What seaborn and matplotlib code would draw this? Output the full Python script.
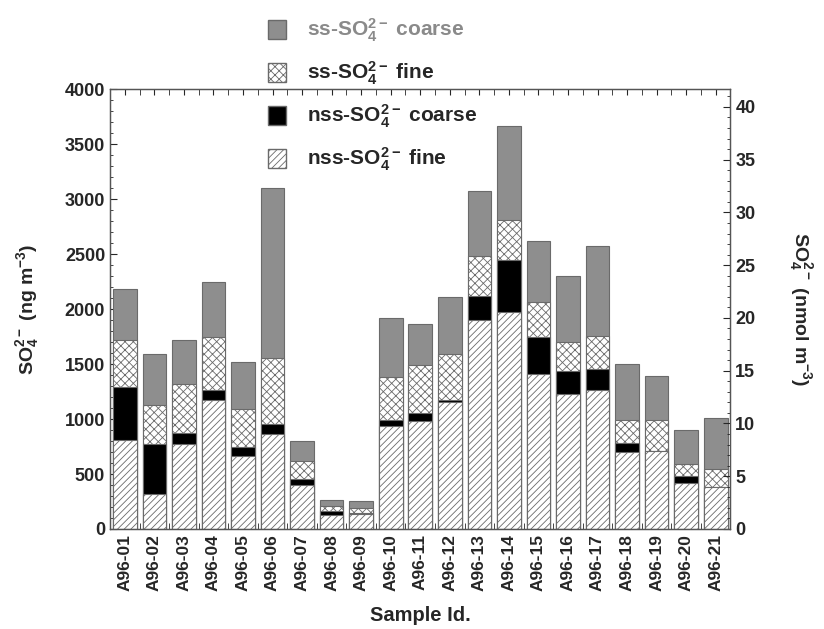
import numpy as np
import pandas as pd
import seaborn as sns
import matplotlib.pyplot as plt
from matplotlib.patches import Patch
from matplotlib.ticker import MultipleLocator

samples = ["A96-%02d" % i for i in range(1, 22)]

# ng m-3 (components of each stacked bar)
nss_fine = [813, 315, 776, 1169, 667, 868, 402, 128, 140, 940, 986, 1151,
            1899, 1973, 1406, 1224, 1269, 703, 712, 420, 384]
nss_coarse = [475, 461, 101, 100, 82, 91, 55, 32, 10, 55, 73, 27,
              220, 474, 338, 210, 183, 82, 0, 64, 0]
ss_fine = [429, 356, 438, 475, 347, 593, 164, 50, 40, 384, 429, 411,
           365, 366, 320, 265, 301, 210, 283, 110, 164]
ss_coarse = [465, 457, 402, 502, 420, 1553, 183, 55, 66, 539, 375, 520,
             593, 849, 557, 602, 822, 503, 393, 310, 466]

df = pd.DataFrame({"sample": samples, "nss_fine": nss_fine, "nss_coarse": nss_coarse,
                   "ss_fine": ss_fine, "ss_coarse": ss_coarse})
df["c1"] = df["nss_fine"]
df["c2"] = df["c1"] + df["nss_coarse"]
df["c3"] = df["c2"] + df["ss_fine"]
df["c4"] = df["c3"] + df["ss_coarse"]

sns.set_style("white")
plt.rcParams["font.family"] = ["Liberation Sans", "DejaVu Sans"]
plt.rcParams["font.weight"] = "bold"
plt.rcParams["mathtext.fontset"] = "custom"
plt.rcParams["mathtext.rm"] = "Liberation Sans:bold"
plt.rcParams["mathtext.bf"] = "Liberation Sans:bold"
plt.rcParams["mathtext.it"] = "Liberation Sans:bold"
plt.rcParams["mathtext.default"] = "bf"
plt.rcParams["hatch.linewidth"] = 0.6

fig = plt.figure(figsize=(8.24, 6.29), dpi=100)
ax = fig.add_axes([0.1335, 0.159, 0.753, 0.699])

edge = "#6a6a6a"
gray = "#8e8e8e"
# draw cumulative totals back to front so each layer covers the one below
styles = [
    ("c4", gray, None),
    ("c3", "white", "xxxx"),
    ("c2", "black", None),
    ("c1", "white", "/////"),
]
for col, fc, hatch in styles:
    sns.barplot(data=df, x="sample", y=col, color=fc, saturation=1, width=0.8,
                edgecolor=edge, linewidth=0.8, hatch=hatch, ax=ax)

ax.set_ylim(0, 4000)
ax.set_xlim(-0.5, 20.5)
ax.yaxis.set_major_locator(MultipleLocator(500))
ax.yaxis.set_minor_locator(MultipleLocator(100))
ax.xaxis.set_minor_locator(MultipleLocator(0.5))
ax.tick_params(axis="both", which="both", direction="in", top=True, bottom=True)
ax.tick_params(axis="y", which="major", length=5, labelsize=13)
ax.tick_params(axis="y", which="minor", length=2.5)
ax.tick_params(axis="x", which="major", length=4, labelsize=12.5, labelrotation=90)
ax.tick_params(axis="x", which="minor", length=4)
ax.set_xlabel("Sample Id.", fontsize=14.5, fontweight="bold", labelpad=11)
ax.set_ylabel(r"SO$_4^{2-}$ (ng m$^{-3}$)", fontsize=14, fontweight="bold", labelpad=17)

ax2 = ax.twinx()
ax2.set_ylim(0, 4000 / 96)
ax2.yaxis.set_major_locator(MultipleLocator(5))
ax2.yaxis.set_minor_locator(MultipleLocator(1))
ax2.tick_params(axis="y", which="major", direction="in", length=5, labelsize=13)
ax2.tick_params(axis="y", which="minor", direction="in", length=2.5)
ax2.set_ylabel(r"SO$_4^{2-}$ (nmol m$^{-3}$)", fontsize=14, fontweight="bold",
               rotation=270, labelpad=42)

for a in (ax, ax2):
    for s in a.spines.values():
        s.set_color("#555555")
        s.set_linewidth(0.9)

handles = [
    Patch(facecolor=gray, edgecolor=edge, label=r"ss-SO$_4^{2-}$ coarse"),
    Patch(facecolor="white", edgecolor=edge, hatch="xxxx", label=r"ss-SO$_4^{2-}$ fine"),
    Patch(facecolor="black", edgecolor=edge, label=r"nss-SO$_4^{2-}$ coarse"),
    Patch(facecolor="white", edgecolor=edge, hatch="/////", label=r"nss-SO$_4^{2-}$ fine"),
]
leg = fig.legend(handles=handles, loc="upper left", bbox_to_anchor=(0.313, 0.99),
                 frameon=False, fontsize=15, handlelength=0.85, handleheight=1.0,
                 handletextpad=1.0, labelspacing=0.75, borderpad=0)
leg.get_texts()[0].set_color("#8a8a8a")

fig.savefig("out.png", dpi=100)
